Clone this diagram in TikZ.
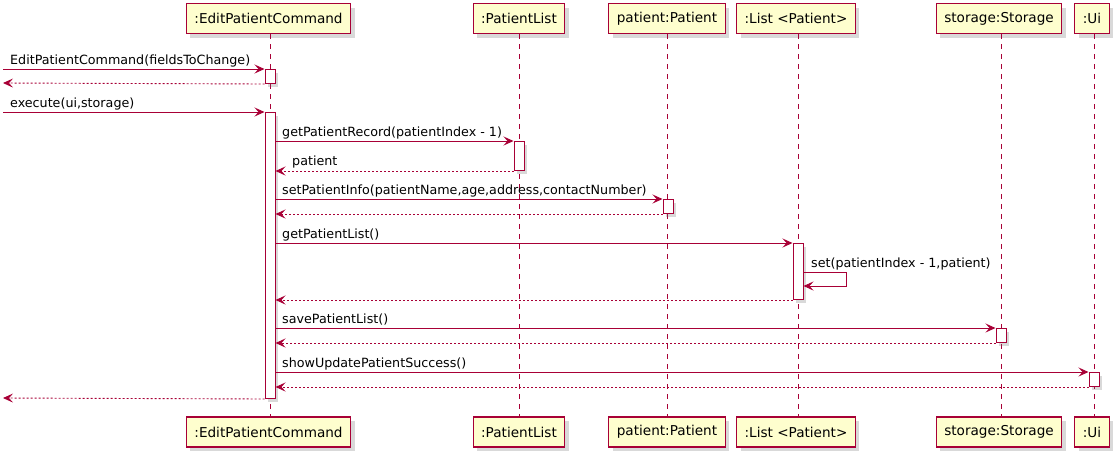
\documentclass[tikz,border=0pt]{standalone}
\usepackage{fontspec}
\setmainfont{DejaVu Sans}
\usetikzlibrary{arrows.meta,shadows}
\definecolor{pborder}{HTML}{A80036}
\definecolor{pfill}{HTML}{FEFECE}
\begin{document}
\begin{tikzpicture}[x=1pt,y=-1pt,
  part/.style={draw=pborder, fill=pfill, line width=1.2pt, minimum height=30pt, inner xsep=8pt, inner ysep=0pt,
    font=\fontsize{13.6}{16}\selectfont,
    drop shadow={shadow xshift=4pt, shadow yshift=-4pt, opacity=0.25, fill=black!60}},
  life/.style={draw=pborder, line width=0.9pt, dash pattern=on 5pt off 5pt},
  act/.style={draw=pborder, fill=white, line width=1pt, minimum width=10pt, inner sep=0pt,
    drop shadow={shadow xshift=3pt, shadow yshift=-3pt, opacity=0.25, fill=black!60}},
  msg/.style={draw=pborder, line width=0.9pt, -{Stealth[length=10pt,width=9pt,inset=4pt]}},
  ret/.style={msg, dash pattern=on 2pt off 2pt},
  lbl/.style={font=\fontsize{12.7}{15}\selectfont, inner sep=0pt, anchor=base west, text=black}
]
\useasboundingbox (0,0) rectangle (1118,456);

% participants (top)
\node[part] (tE) at (268.5,18.5) {:EditPatientCommand};
\node[part] (tP) at (519,18.5) {:PatientList};
\node[part] (tPa) at (667,18.5) {patient:Patient};
\node[part] (tL) at (796,18.5) {:List <Patient>};
\node[part] (tS) at (999,18.5) {storage:Storage};
\node[part] (tU) at (1092,18.5) {:Ui};
% participants (bottom)
\node[part] (bE) at (268.5,432) {:EditPatientCommand};
\node[part] (bP) at (519,432) {:PatientList};
\node[part] (bPa) at (667,432) {patient:Patient};
\node[part] (bL) at (796,432) {:List <Patient>};
\node[part] (bS) at (999,432) {storage:Storage};
\node[part] (bU) at (1092,432) {:Ui};

% lifelines
\coordinate (xE) at (270,0);
\coordinate (xP) at (519,0);
\coordinate (xPa) at (667,0);
\coordinate (xL) at (798,0);
\coordinate (xS) at (1001,0);
\coordinate (xU) at (1094,0);
\draw[life] (xE |- tE.south) -- (xE |- bE.north);
\draw[life] (xP |- tP.south) -- (xP |- bP.north);
\draw[life] (xPa |- tPa.south) -- (xPa |- bPa.north);
\draw[life] (xL |- tL.south) -- (xL |- bL.north);
\draw[life] (xS |- tS.south) -- (xS |- bS.north);
\draw[life] (xU |- tU.south) -- (xU |- bU.north);

% activations
\node[act, minimum height=14pt, anchor=north] (aE1) at (270,69) {};
\node[act, minimum height=286pt, anchor=north] (aE2) at (270,112) {};
\node[act, minimum height=29pt, anchor=north] (aP) at (519,141) {};
\node[act, minimum height=14pt, anchor=north] (aPa) at (668,199) {};
\node[act, minimum height=56pt, anchor=north] (aL) at (798,243) {};
\node[act, minimum height=14pt, anchor=north] (aS) at (1001,328) {};
\node[act, minimum height=14pt, anchor=north] (aU) at (1094,372) {};

% outside coordinates
\coordinate (o1) at (3,69);
\coordinate (o2) at (3,83);
\coordinate (o3) at (3,112);
\coordinate (o4) at (3,398);
\coordinate (s1) at (846,272);
\coordinate (s2) at (846,286);

% messages
\draw[msg] (o1) -- (aE1.north west);
\node[lbl] (l1) at (10,64) {EditPatientCommand(fieldsToChange)};
\draw[ret] (aE1.south west) -- (o2);
\draw[msg] (o3) -- (aE2.north west);
\node[lbl] (l2) at (10,107) {execute(ui,storage)};

\draw[msg] (aE2.east |- aP.north) -- (aP.north west);
\node[lbl] (l3) at (282,136) {getPatientRecord(patientIndex - 1)};
\draw[ret] (aP.south west) -- (aE2.east |- aP.south);
\node[lbl] (l4) at (292,165) {patient};

\draw[msg] (aE2.east |- aPa.north) -- (aPa.north west);
\node[lbl] (l5) at (282,194) {setPatientInfo(patientName,age,address,contactNumber)};
\draw[ret] (aPa.south west) -- (aE2.east |- aPa.south);

\draw[msg] (aE2.east |- aL.north) -- (aL.north west);
\node[lbl] (l6) at (282,238) {getPatientList()};
\draw[msg] (aL.east |- s1) -- (s1) -- (s2) -- (aL.east |- s2);
\node[lbl] (l7) at (811,267) {set(patientIndex - 1,patient)};
\draw[ret] (aL.south west) -- (aE2.east |- aL.south);

\draw[msg] (aE2.east |- aS.north) -- (aS.north west);
\node[lbl] (l8) at (282,323) {savePatientList()};
\draw[ret] (aS.south west) -- (aE2.east |- aS.south);

\draw[msg] (aE2.east |- aU.north) -- (aU.north west);
\node[lbl] (l9) at (282,367) {showUpdatePatientSuccess()};
\draw[ret] (aU.south west) -- (aE2.east |- aU.south);

\draw[ret] (aE2.south west) -- (o4);
\end{tikzpicture}
\end{document}
